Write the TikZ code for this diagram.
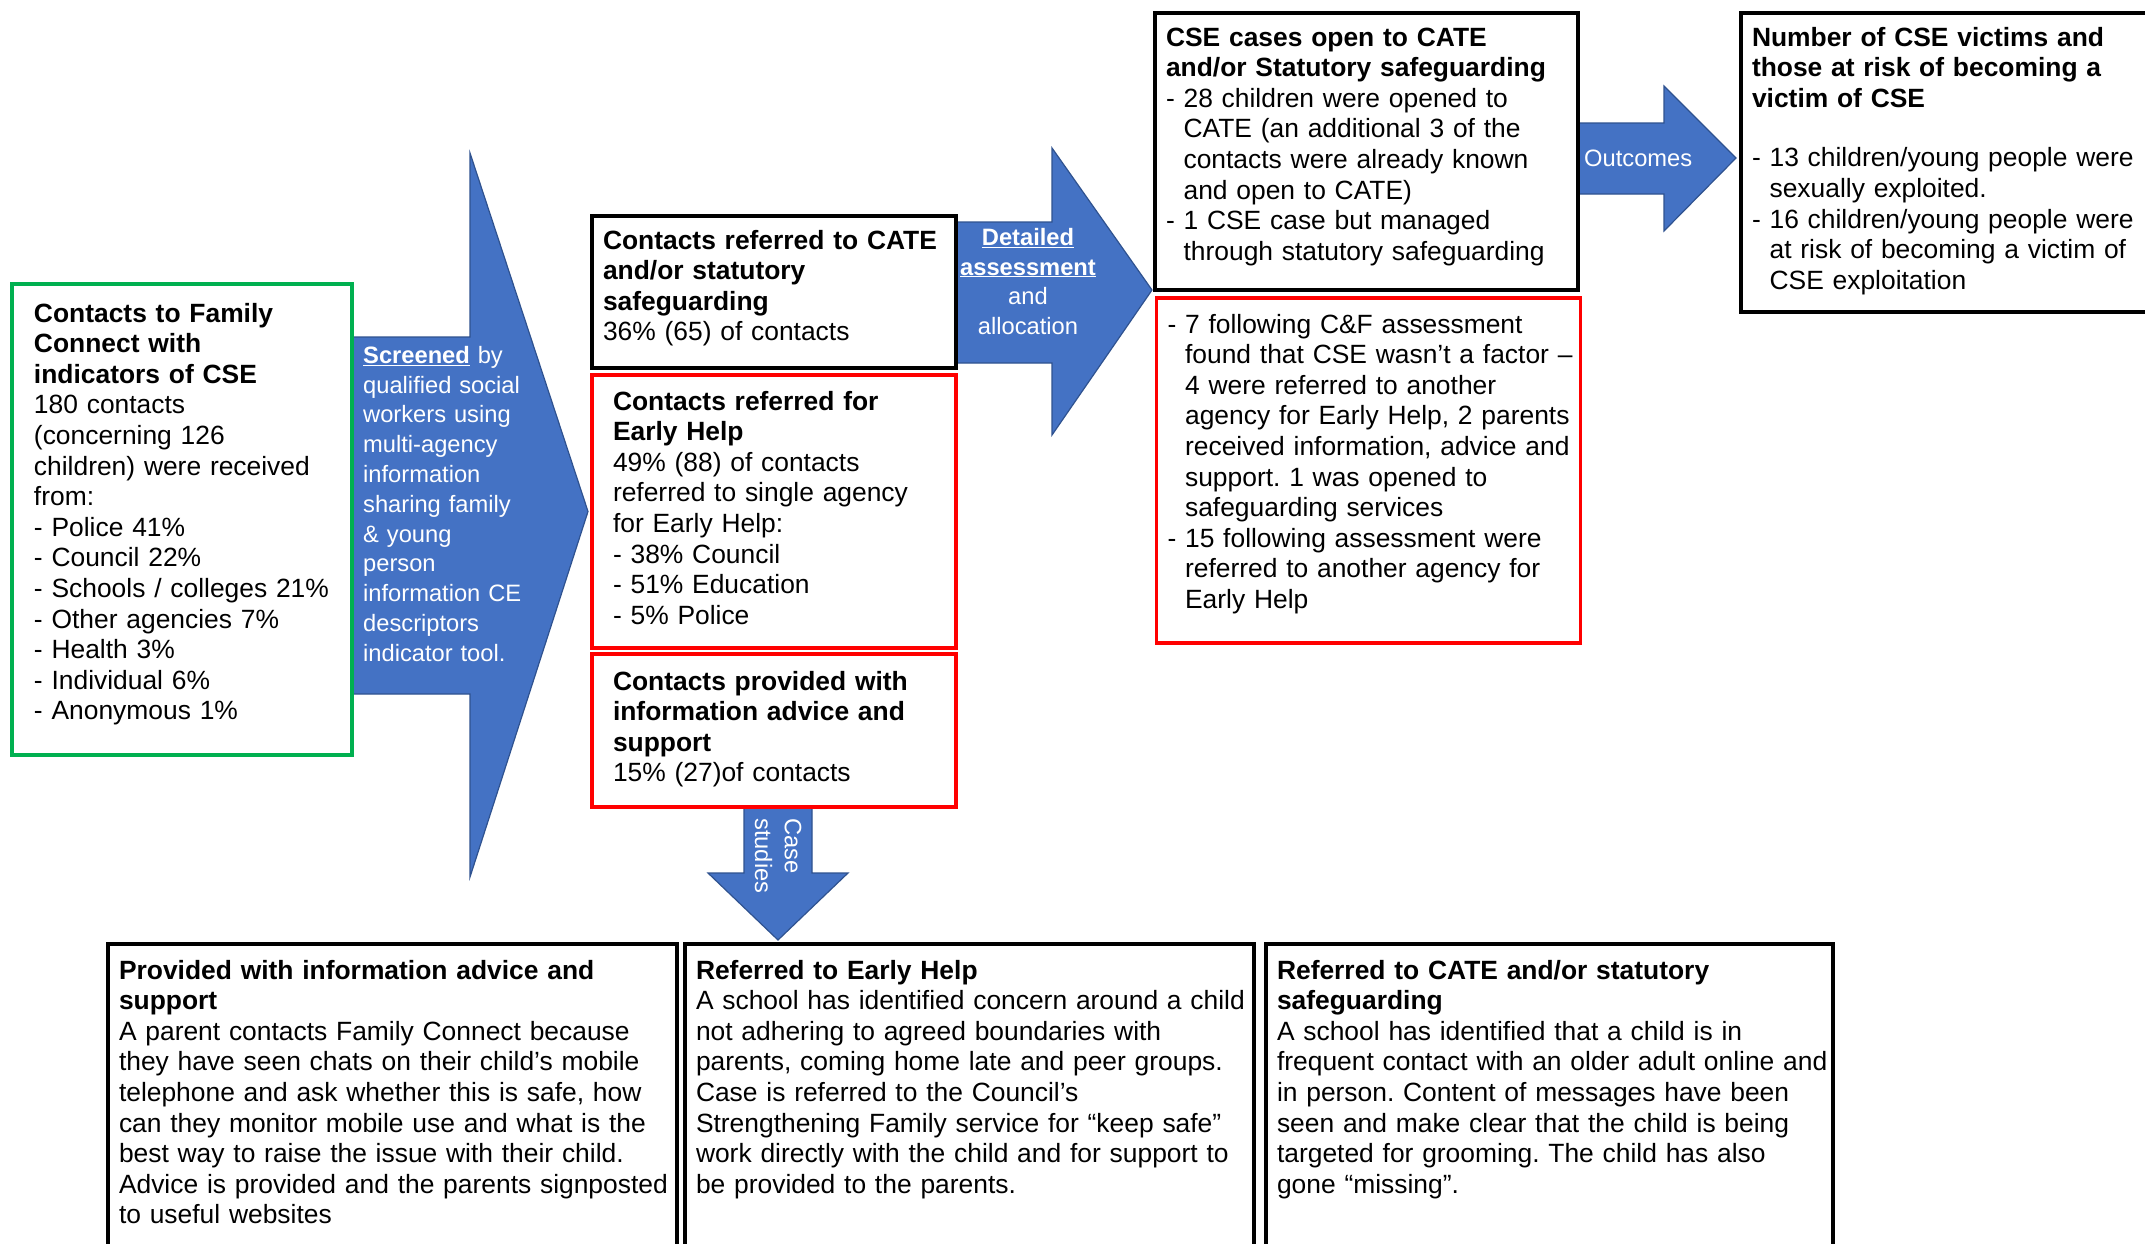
\documentclass[tikz,border=0pt]{standalone}
\usepackage{fontspec}
\setmainfont{Liberation Sans}
\usepackage{tikz}
\usetikzlibrary{positioning, backgrounds}

\definecolor{cseblue}{HTML}{4472C4}
\definecolor{cseblueline}{HTML}{2F528F}
\definecolor{csered}{HTML}{FF0000}
\definecolor{csegreen}{HTML}{00B050}

\begin{document}
\begin{tikzpicture}[
    x=1pt, y=-1pt,
    box/.style={draw=black, line width=4pt, outer sep=0pt, anchor=north west, align=left, inner xsep=11pt, inner ysep=13pt, text height=20pt, font=\fontsize{26.4}{30.6}\selectfont,
        execute at begin node={\rightskip=0pt plus 1fil minus 30pt\relax\frenchspacing\hyphenpenalty=10000\exhyphenpenalty=10000\relax}},
    redbox/.style={box, draw=csered, line width=3.5pt, inner xsep=21pt, inner ysep=15pt},
    greenbox/.style={box, draw=csegreen, line width=3.5pt, inner xsep=22pt, inner ysep=18pt},
    casebox/.style={box, inner ysep=15pt, text depth=267pt},
    blockarrow/.style={fill=cseblue, draw=cseblueline, line width=1.2pt},
    arrowtext/.style={text=white, inner sep=0pt, text height=18pt, font=\fontsize{23.7}{29.8}\selectfont}
]
\useasboundingbox (0,0) rectangle (2145,1243);
\clip (0,0) rectangle (2145,1243);

\node[greenbox, text width=296pt, text depth=415pt] (contacts) at (12,284) {\textbf{Contacts to Family}\\ \textbf{Connect with}\\ \textbf{indicators of CSE}\\ 180 contacts\\ (concerning 126\\ children) were received\\ from:\\ - Police 41\%\\ - Council 22\%\\ - Schools / colleges 21\%\\ - Other agencies 7\%\\ - Health 3\%\\ - Individual 6\%\\ - Anonymous 1\%};

\node[box, text width=342pt, text depth=106pt] (cate) at (592,216) {\textbf{Contacts referred to CATE}\\ \textbf{and/or statutory}\\ \textbf{safeguarding}\\ 36\% (65) of contacts};
\node[redbox, text width=322pt, text depth=223pt, below=7pt of cate] (earlyhelp) {\textbf{Contacts referred for}\\ \textbf{Early Help}\\ 49\% (88) of contacts\\ referred to single agency\\ for Early Help:\\ - 38\% Council\\ - 51\% Education\\ - 5\% Police};
\node[redbox, text width=322pt, text depth=101pt, inner ysep=16pt, below=6pt of earlyhelp] (advice) {\textbf{Contacts provided with}\\ \textbf{information advice and}\\ \textbf{support}\\ 15\% (27)of contacts};

\node[box, text width=401pt, text depth=231pt] (csecases) at (1155,13) {\textbf{CSE cases open to CATE}\\ \textbf{and/or Statutory safeguarding}\\ - 28 children were opened to\\ \hphantom{- }CATE (an additional 3 of the\\ \hphantom{- }contacts were already known\\ \hphantom{- }and open to CATE)\\ - 1 CSE case but managed\\ \hphantom{- }through statutory safeguarding};
\node[redbox, inner xsep=11pt, text width=402pt, text depth=295pt, below=8pt of csecases, xshift=2pt] (notcse) {- 7 following C\&F assessment\\ \hphantom{- }found that CSE wasn't a factor --\\ \hphantom{- }4 were referred to another\\ \hphantom{- }agency for Early Help, 2 parents\\ \hphantom{- }received information, advice and\\ \hphantom{- }support. 1 was opened to\\ \hphantom{- }safeguarding services\\ - 15 following assessment were\\ \hphantom{- }referred to another agency for\\ \hphantom{- }Early Help};

\node[box, text width=401pt, text depth=253pt] (victims) at (1741,13) {\textbf{Number of CSE victims and}\\ \textbf{those at risk of becoming a}\\ \textbf{victim of CSE}\\[29pt] - 13 children/young people were\\ \hphantom{- }sexually exploited.\\ - 16 children/young people were\\ \hphantom{- }at risk of becoming a victim of\\ \hphantom{- }CSE exploitation};

\node[casebox, text width=547pt] (provided) at (108,944) {\textbf{Provided with information advice and}\\ \textbf{support}\\ A parent contacts Family Connect because\\ they have seen chats on their child's mobile\\ telephone and ask whether this is safe, how\\ can they monitor mobile use and what is the\\ best way to raise the issue with their child.\\ Advice is provided and the parents signposted\\ to useful websites};
\node[casebox, text width=547pt, right=8pt of provided] (earlycase) {\textbf{Referred to Early Help}\\ A school has identified concern around a child\\ not adhering to agreed boundaries with\\ parents, coming home late and peer groups.\\ Case is referred to the Council's\\ Strengthening Family service for ``keep safe''\\ work directly with the child and for support to\\ be provided to the parents.};
\node[casebox, text width=545pt, right=12pt of earlycase] (statcase) {\textbf{Referred to CATE and/or statutory}\\ \textbf{safeguarding}\\ A school has identified that a child is in\\ frequent contact with an older adult online and\\ in person. Content of messages have been\\ seen and make clear that the child is being\\ targeted for grooming. The child has also\\ gone ``missing''.};

\begin{scope}[on background layer]
\fill[white] (0,0) rectangle (2145,1243);
\draw[blockarrow] ([shift={(0,-182.5)}]contacts.east) -- ([shift={(118,-182.5)}]contacts.east) -- ([shift={(118,-366.5)}]contacts.east) -- ([xshift=-4pt]earlyhelp.west) -- ([shift={(118,357.5)}]contacts.east) -- ([shift={(118,174.5)}]contacts.east) -- ([shift={(0,174.5)}]contacts.east) -- cycle;
\draw[blockarrow] ([shift={(0,-70)}]cate.east) -- ([shift={(96,-70)}]cate.east) -- ([shift={(96,-144)}]cate.east) -- ([xshift=-3pt]csecases.south west) -- ([shift={(96,143)}]cate.east) -- ([shift={(96,71)}]cate.east) -- ([shift={(0,71)}]cate.east) -- cycle;
\draw[blockarrow] ([shift={(0,-28.5)}]csecases.east) -- ([shift={(86,-28.5)}]csecases.east) -- ([shift={(86,-65.5)}]csecases.east) -- ([shift={(-5,-4.5)}]victims.west) -- ([shift={(86,79.5)}]csecases.east) -- ([shift={(86,42.5)}]csecases.east) -- ([shift={(0,42.5)}]csecases.east) -- cycle;
\draw[blockarrow] ([shift={(-30,0)}]advice.south) -- ([shift={(-30,66)}]advice.south) -- ([shift={(-66,66)}]advice.south) -- ([shift={(93,-4)}]earlycase.north west) -- ([shift={(74,66)}]advice.south) -- ([shift={(38,66)}]advice.south) -- ([shift={(38,0)}]advice.south) -- cycle;
\end{scope}

\node[arrowtext, text width=175pt, align=left, anchor=north west] (screentext) at (363,345) {\underline{\textbf{Screened}} by\\ qualified social\\ workers using\\ multi-agency\\ information\\ sharing family\\ \& young\\ person\\ information CE\\ descriptors\\ indicator tool.};
\node[arrowtext, text width=150pt, align=center, anchor=north] (detailtext) at (1028,227) {\underline{\textbf{Detailed}}\\ \underline{\textbf{assessment}}\\ and\\ allocation};
\node[arrowtext, anchor=base west] (outtext) at (1584,166) {Outcomes};
\node[arrowtext, rotate=-90, text width=80pt, align=left, anchor=north west] (casetext) at (803,818) {Case\\ studies};

\end{tikzpicture}
\end{document}
